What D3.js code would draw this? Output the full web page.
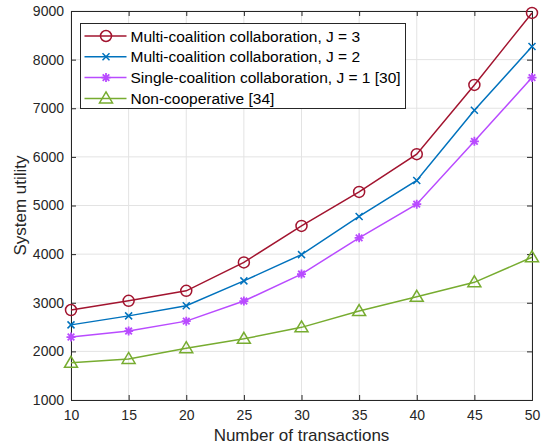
<!DOCTYPE html>
<html>
<head>
<meta charset="utf-8">
<script src="https://cdn.jsdelivr.net/npm/d3@7"></script>
<style>
  body { margin: 0; background: #fff; }
  svg { font-family: "Liberation Sans", Arial, sans-serif; }
</style>
</head>
<body>
<div id="chart"></div>
<script>
const transactions = [10, 15, 20, 25, 30, 35, 40, 45, 50];
const multiJ3 = [2850, 3040, 3245, 3830, 4580, 5280, 6055, 7480, 8960];
const multiJ2 = [2545, 2730, 2938, 3450, 3990, 4775, 5515, 6960, 8270];
const singleJ1 = [2295, 2418, 2622, 3035, 3590, 4335, 5028, 6320, 7630];
const nonCoop = [1765, 1845, 2065, 2258, 2494, 2830, 3122, 3420, 3935];
const yTicks = [1000, 2000, 3000, 4000, 5000, 6000, 7000, 8000, 9000];

const series = [
  { name: 'Multi-coalition collaboration, J = 3', values: multiJ3, color: '#A2142F', marker: 'circle' },
  { name: 'Multi-coalition collaboration, J = 2', values: multiJ2, color: '#0072BD', marker: 'x' },
  { name: 'Single-coalition collaboration, J = 1 [30]', values: singleJ1, color: '#B94BFF', marker: 'asterisk' },
  { name: 'Non-cooperative [34]', values: nonCoop, color: '#77AC30', marker: 'triangle' }
];

const width = 542, height = 445;
const margin = { top: 11, right: 10, bottom: 45, left: 71 };
const innerW = width - margin.left - margin.right;
const innerH = height - margin.top - margin.bottom;

const svg = d3.select('#chart').append('svg')
  .attr('width', width)
  .attr('height', height);

const g = svg.append('g').attr('transform', `translate(${margin.left},${margin.top})`);

const x = d3.scaleLinear().domain([10, 50]).range([0, innerW]);
const y = d3.scaleLinear().domain([1000, 9000]).range([innerH, 0]);

// grid
g.append('g').selectAll('line').data(transactions).join('line')
  .attr('x1', d => x(d)).attr('x2', d => x(d))
  .attr('y1', 0).attr('y2', innerH)
  .attr('stroke', '#e3e3e3').attr('stroke-width', 1);
g.append('g').selectAll('line').data(yTicks).join('line')
  .attr('x1', 0).attr('x2', innerW)
  .attr('y1', d => y(d)).attr('y2', d => y(d))
  .attr('stroke', '#e3e3e3').attr('stroke-width', 1);

// axes (ticks inside, box)
const xAxis = g.append('g').attr('transform', `translate(0,${innerH})`)
  .call(d3.axisBottom(x).tickValues(transactions).tickSize(-5).tickPadding(10));
const yAxis = g.append('g')
  .call(d3.axisLeft(y).tickValues(yTicks).tickSize(-5).tickPadding(7).tickFormat(d3.format('d')));
const xTop = g.append('g')
  .call(d3.axisTop(x).tickValues(transactions).tickSize(-5).tickFormat(''));
const yRight = g.append('g').attr('transform', `translate(${innerW},0)`)
  .call(d3.axisRight(y).tickValues(yTicks).tickSize(-5).tickFormat(''));

[xAxis, yAxis, xTop, yRight].forEach(a => {
  a.select('.domain').attr('stroke', '#262626');
  a.selectAll('.tick line').attr('stroke', '#262626');
  a.selectAll('.tick text').attr('fill', '#262626').style('font-size', '14px')
    .style('font-family', '"Liberation Sans", Arial, sans-serif');
});

// axis labels
svg.append('text')
  .attr('x', margin.left + innerW / 2).attr('y', 441)
  .attr('text-anchor', 'middle')
  .attr('fill', '#262626')
  .style('font-size', '17px')
  .text('Number of transactions');
svg.append('text')
  .attr('transform', `translate(26,${margin.top + innerH / 2}) rotate(-90)`)
  .attr('text-anchor', 'middle')
  .attr('fill', '#262626')
  .style('font-size', '17px')
  .text('System utility');

function drawMarker(sel, type, color) {
  if (type === 'circle') {
    sel.append('circle').attr('r', 5.5).attr('fill', 'none')
      .attr('stroke', color).attr('stroke-width', 1.5);
  } else if (type === 'x') {
    sel.append('path').attr('d', 'M-3.5,-3.5L3.5,3.5M-3.5,3.5L3.5,-3.5')
      .attr('stroke', color).attr('stroke-width', 1.5);
  } else if (type === 'asterisk') {
    sel.append('path').attr('d', 'M0,-4.5V4.5M-4.5,0H4.5M-3.3,-3.3L3.3,3.3M-3.3,3.3L3.3,-3.3')
      .attr('stroke', color).attr('stroke-width', 1.8);
  } else if (type === 'triangle') {
    sel.append('path').attr('d', 'M0,-6.5L6.5,4.5L-6.5,4.5Z').attr('fill', 'none')
      .attr('stroke', color).attr('stroke-width', 1.5);
  }
}

const line = d3.line().x((d, i) => x(transactions[i])).y(d => y(d));

series.forEach(s => {
  g.append('path')
    .datum(s.values)
    .attr('d', line)
    .attr('fill', 'none')
    .attr('stroke', s.color)
    .attr('stroke-width', 1.5);

  g.append('g').selectAll('g').data(s.values).join('g')
    .attr('transform', (d, i) => `translate(${x(transactions[i])},${y(d)})`)
    .each(function() { drawMarker(d3.select(this), s.marker, s.color); });
});

// legend
const legend = svg.append('g').attr('transform', 'translate(80.5,23.5)');
legend.append('rect')
  .attr('width', 325).attr('height', 85)
  .attr('fill', '#fff').attr('stroke', '#262626').attr('stroke-width', 1);

series.forEach((s, i) => {
  const row = legend.append('g').attr('transform', `translate(0,${12.5 + i * 20.8})`);
  row.append('line').attr('x1', 4).attr('x2', 46).attr('y1', 0).attr('y2', 0)
    .attr('stroke', s.color).attr('stroke-width', 1.5);
  drawMarker(row.append('g').attr('transform', 'translate(25.5,0)'), s.marker, s.color);
  row.append('text').attr('x', 50).attr('y', 5.5)
    .attr('fill', '#000')
    .style('font-size', '15.5px')
    .text(s.name);
});
</script>
</body>
</html>
